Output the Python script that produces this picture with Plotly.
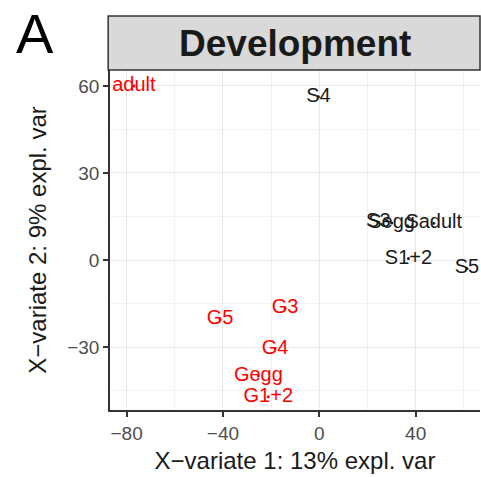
import plotly.graph_objects as go

# Data
labels_g = ["adult", "G3", "G5", "G4", "Gegg", "G1+2"]
x_g = [-77.0, -14.2, -41.2, -18.4, -25.3, -21.2]
y_g = [60.0, -16.7, -20.5, -30.5, -40.0, -47.1]

labels_s = ["S4", "S3", "Segg", "Sadult", "S1+2", "S5"]
x_s = [-0.4, 24.5, 30.0, 47.5, 37.0, 61.3]
y_s = [56.3, 13.0, 12.8, 12.7, 0.5, -2.9]

xticks = [-80, -40, 0, 40]
yticks = [-30, 0, 30, 60]

FONT = "Liberation Sans, Arial, sans-serif"

fig = go.Figure()
for xs, ys, labs, col in [(x_g, y_g, labels_g, "#ff0000"), (x_s, y_s, labels_s, "#1a1a1a")]:
    fig.add_trace(go.Scatter(
        x=xs, y=ys, text=labs, mode="markers+text",
        textposition="middle center",
        textfont=dict(family=FONT, size=20, color=col),
        marker=dict(size=3, color=col),
        cliponaxis=True, showlegend=False, hoverinfo="skip"))

grid_major = "#e8e8e8"
grid_minor = "#f2f2f2"
fig.update_xaxes(
    range=[-86.9, 66.7], tickvals=xticks, ticktext=["\u221280", "\u221240", "0", "40"],
    showgrid=True, gridcolor=grid_major, gridwidth=1.2,
    minor=dict(dtick=20, tick0=0, showgrid=True, gridcolor=grid_minor, gridwidth=0.8),
    showline=True, linecolor="#333333", linewidth=1.5,
    ticks="outside", ticklen=5, tickcolor="#333333", tickwidth=1.5,
    tickfont=dict(family=FONT, size=19, color="#4d4d4d"),
    title=dict(text="X\u2212variate 1: 13% expl. var", font=dict(family=FONT, size=24, color="#1a1a1a"), standoff=10),
    zeroline=False, mirror=False)
fig.update_yaxes(
    range=[-51.7, 65.5], tickvals=yticks, ticktext=["\u221230", "0", "30", "60"],
    showgrid=True, gridcolor=grid_major, gridwidth=1.2,
    minor=dict(dtick=15, tick0=0, showgrid=True, gridcolor=grid_minor, gridwidth=0.8),
    showline=True, linecolor="#333333", linewidth=1.5,
    ticks="outside", ticklen=5, tickcolor="#333333", tickwidth=1.5,
    tickfont=dict(family=FONT, size=19, color="#4d4d4d"),
    title=dict(text="X\u2212variate 2: 9% expl. var", font=dict(family=FONT, size=24, color="#1a1a1a"), standoff=14),
    zeroline=False)

# Facet strip
fig.add_shape(type="rect", xref="paper", yref="paper",
              x0=-0.005, x1=1.0, y0=1.0, y1=1 + 54 / 340,
              fillcolor="#d9d9d9", line=dict(color="#333333", width=1.5), layer="above")
fig.add_annotation(text="<b>Development</b>", xref="paper", yref="paper",
                   x=0.5, y=1 + 27 / 340, showarrow=False, xanchor="center", yanchor="middle",
                   font=dict(family=FONT, size=37, color="#1a1a1a"))
fig.add_annotation(text="A", xref="paper", yref="paper",
                   x=-0.26, y=1 + 36 / 340, showarrow=False, xanchor="left", yanchor="middle",
                   font=dict(family=FONT, size=56, color="#000000"))

fig.update_layout(
    width=481, height=477,
    margin=dict(l=110, r=1, t=70, b=67),
    plot_bgcolor="white", paper_bgcolor="white")

fig.write_html("out.html")
